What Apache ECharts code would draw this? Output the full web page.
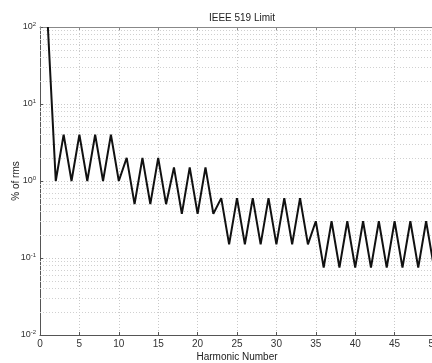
<!DOCTYPE html>
<html>
<head>
<meta charset="utf-8">
<script src="https://cdn.jsdelivr.net/npm/echarts@6/dist/echarts.min.js"></script>
<style>
  html, body { margin: 0; padding: 0; background: #fff; }
  #chart { width: 432px; height: 363px; }
</style>
</head>
<body>
<div id="chart"></div>
<script>
// IEEE 519 limit, % of rms per harmonic
var harmonics = [1,2,3,4,5,6,7,8,9,10,11,12,13,14,15,16,17,18,19,20,21,22,23,24,25,
	26,27,28,29,30,31,32,33,34,35,36,37,38,39,40,41,42,43,44,45,46,47,48,49,50];
var limits = [100,1,4,1,4,1,4,1,4,1,2,0.5,2,0.5,2,0.5,1.5,0.375,1.5,0.375,1.5,0.375,0.6,0.15,0.6,
	0.15,0.6,0.15,0.6,0.15,0.6,0.15,0.6,0.15,0.3,0.075,0.3,0.075,0.3,0.075,0.3,0.075,0.3,0.075,0.3,
	0.075,0.3,0.075,0.3,0.075];
var decades = [0.01, 0.1, 1, 10];
var minorSteps = [2,3,4,5,6,7,8,9];

var chartDom = document.getElementById('chart');
var myChart = echarts.init(chartDom);
var option;

var minorLines = [];
decades.forEach(function (d) {
	minorSteps.forEach(function (k) { minorLines.push({yAxis: k * d}); });
});

var points = harmonics.map(function (h, i) { return [h, limits[i]]; });
var gridStyle = {color: '#c8c8c8', type: [1, 2], width: 1};
var font = 'Liberation Sans';

option = {
	animation: false,
	textStyle: {fontFamily: font},
	title: {
		text: 'IEEE 519 Limit', left: 237, top: 8, textAlign: 'center',
		textStyle: {fontSize: 10, fontWeight: 'normal', color: '#222', fontFamily: font}
	},
	grid: {left: 40, right: -2, top: 27, bottom: 28, outerBoundsMode: 'none', containLabel: false},
	xAxis: [{
		type: 'value', min: 0, max: 50, interval: 5,
		name: 'Harmonic Number', nameLocation: 'middle', nameGap: 17, nameMoveOverlap: false,
		nameTextStyle: {fontSize: 10, color: '#222', fontFamily: font},
		axisLine: {lineStyle: {color: '#555'}},
		axisTick: {inside: true, length: 3, lineStyle: {color: '#555'}},
		axisLabel: {fontSize: 10, color: '#333', margin: 4, showMaxLabel: true},
		splitLine: {show: true, lineStyle: gridStyle}
	}, {
		type: 'value', min: 0, max: 50, interval: 5, position: 'top',
		axisLine: {show: true, lineStyle: {color: '#888'}},
		axisTick: {show: true, inside: true, length: 3, lineStyle: {color: '#888'}},
		axisLabel: {show: false}, splitLine: {show: false}
	}],
	yAxis: [{
		type: 'log', logBase: 10, min: 0.01, max: 100,
		name: '% of rms', nameLocation: 'middle', nameGap: 19, nameMoveOverlap: false,
		nameTextStyle: {fontSize: 10, color: '#222', fontFamily: font},
		axisLine: {show: true, lineStyle: {color: '#555'}},
		axisTick: {show: true, inside: true, length: 3, lineStyle: {color: '#555'}},
		axisLabel: {
			fontSize: 9, color: '#333', margin: 4,
			formatter: function (v) {
				return '10{s|' + Math.round(Math.log10(v)) + '}';
			},
			rich: {s: {fontSize: 6, color: '#333', padding: [0, 0, 6, 0]}}
		},
		splitLine: {show: true, lineStyle: gridStyle}
	}, {
		type: 'log', logBase: 10, min: 0.01, max: 100, position: 'right',
		axisLine: {show: false}, axisTick: {show: false},
		axisLabel: {show: false}, splitLine: {show: false}
	}],
	series: [{
		type: 'line', data: points, symbol: 'none',
		lineStyle: {color: '#111', width: 2}, z: 5,
		markLine: {
			silent: true, symbol: 'none', label: {show: false},
			lineStyle: {color: '#d0d0d0', type: [1, 2], width: 1},
			data: minorLines
		}
	}]
};
option && myChart.setOption(option);
</script>
</body>
</html>
